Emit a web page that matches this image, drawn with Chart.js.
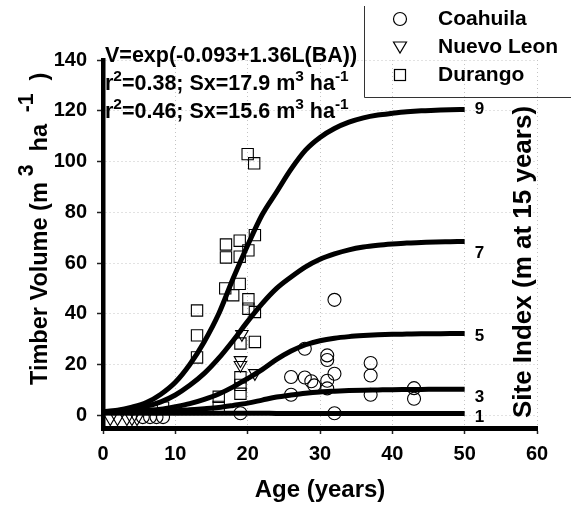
<!DOCTYPE html>
<html><head><meta charset="utf-8">
<script src="https://cdn.jsdelivr.net/npm/chart.js@4/dist/chart.umd.min.js"></script>
<style>html,body{margin:0;padding:0;background:#fff;}canvas{display:block;}</style>
</head><body>
<canvas id="c" width="571" height="506"></canvas>
<script>
// ---- data ----
const xTicks = [0, 10, 20, 30, 40, 50, 60];
const yTicks = [0, 20, 40, 60, 80, 100, 120, 140];

const curveAges = [0,2,4,6,8,10,12,14,16,18,20,22,24,26,28,30,32,34,36,38,40,42,44,46,48,50];
const site9 = [1.5,2.0,3.2,5.0,8.3,13,20,29,40,54,67,79,88,97,104.5,109.5,113,115.5,117.2,118.3,119,119.6,120,120.2,120.4,120.5];
const site7 = [1.3,1.8,2.6,3.6,5.3,8,11.8,16.5,22.5,29.5,37,44,50,54.5,58.5,61.5,63.6,65.2,66.3,67,67.5,67.9,68.1,68.3,68.4,68.5];
const site5 = [1.2,1.4,1.7,2.0,2.4,3.4,4.6,6.3,8.4,11.2,14.5,18,22,25.3,27.8,29.4,30.4,31.0,31.4,31.7,31.9,32.0,32.1,32.15,32.2,32.2];
const site3 = [1.1,1.15,1.2,1.35,1.55,1.8,2.2,2.6,3.1,3.9,4.8,6.0,7.2,8.0,8.7,9.2,9.5,9.75,9.9,10.0,10.1,10.15,10.2,10.25,10.3,10.3];
const site1 = [0.9,0.9,0.9,0.85,0.85,0.8,0.8,0.8,0.8,0.8,0.8,0.8,0.75,0.75,0.75,0.75,0.7,0.7,0.7,0.7,0.7,0.7,0.7,0.7,0.7,0.7];
const siteLabels = ['9', '7', '5', '3', '1'];

const coahuilaAge = [32.0,27.9,31.0,31.0,37.0,37.0,26.0,27.9,28.8,29.2,31.0,32.0,31.0,26.0,37.0,43.0,43.0,32.0,19.0,5.5,6.5,7.4,8.3];
const coahuilaVol = [45.5,26.2,23.6,21.8,20.6,15.7,15.1,14.9,13.4,11.8,13.6,16.4,10.6,8.1,8.1,10.7,6.5,0.8,0.8,-0.7,-0.7,-0.7,-0.7];

const nuevoLeonAge = [19.2,19.0,19.0,21.0,1.0,2.0,3.3,4.0,4.7];
const nuevoLeonVol = [32.0,21.7,19.8,16.6,-1.2,-1.2,-1.2,-1.2,-1.2];

const durangoAge = [20.0,20.9,17.0,18.9,21.0,17.0,18.9,20.1,16.9,18.9,18.0,20.1,20.1,21.0,13.0,13.0,13.0,19.0,21.0,19.0,19.0,19.0,16.0,16.0,8.3];
const durangoVol = [102.9,99.3,67.3,68.8,71.0,62.2,62.5,65.0,50.0,51.8,47.3,45.7,42.0,40.7,41.3,31.5,22.8,28.3,28.9,15.0,12.0,8.5,7.3,3.3,3.0];

const legendNames = ['Coahuila', 'Nuevo Leon', 'Durango'];
const eqLine = 'V=exp(-0.093+1.36L(BA))';
const fitStats = [['0.38', '17.9'], ['0.46', '15.6']];

// ---- helpers ----
const FAM = '"Liberation Sans", Arial, Helvetica, sans-serif';
const pts = (xs, ys) => xs.map((x, i) => ({x: x, y: ys[i]}));

function drawRich(ctx, segs, x, y, size, opts) {
  opts = opts || {};
  ctx.save();
  ctx.translate(x, y);
  if (opts.rot) ctx.rotate(opts.rot);
  ctx.textBaseline = 'alphabetic';
  ctx.textAlign = 'left';
  ctx.fillStyle = '#000';
  const supScale = opts.sup || 0.68;
  const raise = opts.raise || 0.42;
  let total = 0;
  const widths = segs.map(s => {
    ctx.font = 'bold ' + (s[1] ? size * supScale : size) + 'px ' + FAM;
    const w = ctx.measureText(s[0]).width;
    total += w;
    return w;
  });
  let cx = opts.align === 'center' ? -total / 2 : 0;
  segs.forEach((s, i) => {
    ctx.font = 'bold ' + (s[1] ? size * supScale : size) + 'px ' + FAM;
    ctx.fillText(s[0], cx, s[1] ? -size * raise : 0);
    cx += widths[i];
  });
  ctx.restore();
}

const labelDy = [0, 12, 3, 8, 4];

const decor = {
  id: 'decor',
  afterDraw(chart) {
    const ctx = chart.ctx;
    const xs = chart.scales.x, ys = chart.scales.y;
    // annotations
    drawRich(ctx, [[eqLine]], 105, 62, 21.5);
    fitStats.forEach((st, i) => {
      drawRich(ctx, [['r'], ['2', 1], ['=' + st[0] + '; Sx=' + st[1] + ' m'], ['3', 1], [' ha'], ['-1', 1]], 105, 90 + 28 * i, 21.5, {sup: 0.72});
    });
    // site labels at curve ends
    const curves = [site9, site7, site5, site3, site1];
    ctx.save();
    ctx.font = 'bold 17px ' + FAM;
    ctx.fillStyle = '#000';
    ctx.textBaseline = 'middle';
    ctx.textAlign = 'left';
    curves.forEach((c, i) => {
      const px = xs.getPixelForValue(curveAges[curveAges.length - 1]) + 10;
      const py = ys.getPixelForValue(c[c.length - 1]) + labelDy[i];
      ctx.fillText(siteLabels[i], px, py);
    });
    ctx.restore();
    // axis titles (rotated)
    drawRich(ctx, [['Timber Volume (m'], [' 3', 1], ['  ha'], ['  -1', 1], ['  )']], 47, 385, 23.5, {rot: -Math.PI / 2, sup: 0.9, raise: 0.6});
    drawRich(ctx, [['Site Index (m at 15 years)']], 531, 262, 26, {rot: -Math.PI / 2, align: 'center'});
    // legend box
    ctx.save();
    ctx.strokeStyle = '#333';
    ctx.lineWidth = 1;
    ctx.beginPath();
    ctx.moveTo(364.5, 6);
    ctx.lineTo(364.5, 97.5);
    ctx.lineTo(571, 97.5);
    ctx.stroke();
    ctx.lineWidth = 1.2;
    ctx.strokeStyle = '#000';
    const lx = 400, ly = [19, 47, 75];
    ctx.beginPath(); ctx.arc(lx, ly[0], 6.5, 0, Math.PI * 2); ctx.stroke();
    ctx.beginPath(); ctx.moveTo(lx - 6.5, ly[1] - 5); ctx.lineTo(lx + 6.5, ly[1] - 5); ctx.lineTo(lx, ly[1] + 6); ctx.closePath(); ctx.stroke();
    ctx.strokeRect(lx - 5.5, ly[2] - 5.5, 11, 11);
    ctx.font = 'bold 21px ' + FAM;
    ctx.fillStyle = '#000';
    ctx.textBaseline = 'middle';
    legendNames.forEach((n, i) => ctx.fillText(n, 438, ly[i]));
    ctx.restore();
  }
};

const curveDs = (data, label) => ({
  type: 'line', label: label, data: pts(curveAges, data), borderColor: '#000', borderWidth: 5,
  pointRadius: 0, showLine: true, fill: false, cubicInterpolationMode: 'monotone', borderCapStyle: 'butt'
});
const markDs = (label, xsA, ysA, style, r, rot) => ({
  type: 'scatter', label: label, data: pts(xsA, ysA), pointStyle: style, pointRadius: r, pointRotation: rot || 0,
  pointBorderColor: '#000', pointBackgroundColor: 'rgba(0,0,0,0)', pointBorderWidth: 1.1, showLine: false
});

const tickFont = {family: FAM, size: 20, weight: 'bold'};
new Chart(document.getElementById('c'), {
  type: 'scatter',
  data: {
    datasets: [
      markDs(legendNames[0], coahuilaAge, coahuilaVol, 'circle', 6.5),
      markDs(legendNames[1], nuevoLeonAge, nuevoLeonVol, 'triangle', 7.2, 180),
      markDs(legendNames[2], durangoAge, durangoVol, 'rect', 8),
      curveDs(site9, 'SI 9'), curveDs(site7, 'SI 7'), curveDs(site5, 'SI 5'), curveDs(site3, 'SI 3'), curveDs(site1, 'SI 1')
    ]
  },
  options: {
    responsive: false,
    animation: false,
    devicePixelRatio: 1,
    layout: {padding: {left: 0, right: 34, top: 60, bottom: 0}},
    plugins: {legend: {display: false}, tooltip: {enabled: false}},
    scales: {
      x: {
        type: 'linear', position: 'bottom', min: 0, max: 60,
        afterBuildTicks: s => { s.ticks = xTicks.map(v => ({value: v})); },
        afterFit: s => { s.height = 78; },
        grid: {color: '#c4c4c4', lineWidth: 1, tickColor: '#222', tickLength: 6, tickWidth: 1.5, tickBorderDash: []},
        border: {display: true, color: '#000', width: 5, dash: [1, 3]},
        ticks: {font: tickFont, color: '#000', padding: 8, maxRotation: 0, autoSkip: false},
        title: {display: true, text: 'Age (years)', color: '#000', font: {family: FAM, size: 24, weight: 'bold'}, padding: {top: 0, bottom: 1}}
      },
      y: {
        type: 'linear', position: 'left', min: -5, max: 140,
        afterBuildTicks: s => { s.ticks = yTicks.map(v => ({value: v})); },
        afterFit: s => { s.width = 103; },
        grid: {color: '#c4c4c4', lineWidth: 1, tickColor: '#222', tickLength: 6, tickWidth: 1.5, tickBorderDash: []},
        border: {display: true, color: '#000', width: 4.5, dash: [1, 3]},
        ticks: {font: tickFont, color: '#000', padding: 10, autoSkip: false}
      }
    }
  },
  plugins: [decor]
});
</script>
</body></html>
